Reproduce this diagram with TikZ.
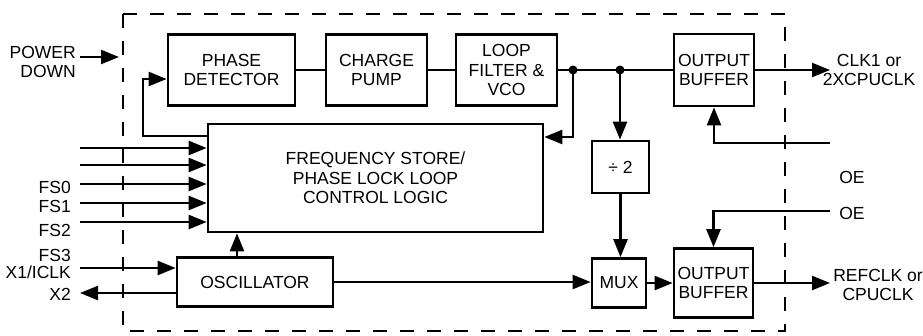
\documentclass[tikz,border=0pt]{standalone}
\usepackage{fontspec}
\setmainfont{Liberation Sans}
\usetikzlibrary{arrows.meta}
\tikzset{
    blockdiag/.style={
        x=1pt, y=-1pt,
        font=\fontsize{17.5}{19.5}\selectfont,
    },
    blk/.style={draw, line width=2.7pt, align=center, inner sep=1pt},
    sig/.style={line width=2.4pt, -{Triangle[length=18pt,width=14pt]}},
    wire/.style={line width=2.4pt},
    pinlabel/.style={anchor=east, inner sep=0pt},
}
\newcommand{\jdot}[1]{\fill (#1) circle (4.5pt);}

\begin{document}
\begin{tikzpicture}
        [blockdiag]
\useasboundingbox (0,0) rectangle (923,335);
\draw[line width=2.6pt, dash pattern=on 14pt off 13pt] (123,14) rectangle (785,331);
% blocks
\node[blk, minimum width=127pt, minimum height=71pt] (pd) at (231.5,70) {PHASE\\DETECTOR};
\node[blk, minimum width=101pt, minimum height=71pt] (cp) at (376.5,70) {CHARGE\\PUMP};
\node[blk, minimum width=101pt, minimum height=71pt] (lf) at (506.5,70) {LOOP\\FILTER \&\\VCO};
\node[blk, minimum width=80pt, minimum height=72pt] (ob1) at (714,70) {OUTPUT\\BUFFER};
\node[blk, minimum width=335pt, minimum height=108pt] (fs) at (375.5,178) {FREQUENCY STORE/\\PHASE LOCK LOOP\\CONTROL LOGIC};
\node[blk, minimum width=57pt, minimum height=52pt] (div) at (620.5,167) {÷ 2};
\node[blk, minimum width=54pt, minimum height=49pt] (mux) at (619,283) {MUX};
\node[blk, minimum width=79pt, minimum height=69pt] (ob2) at (713.5,283) {OUTPUT\\BUFFER};
\node[blk, minimum width=156pt, minimum height=49pt] (osc) at (255,282) {OSCILLATOR};
% pin labels
\node[pinlabel, align=right] (pwrlbl) at (76,62) {POWER\\DOWN};
\node[pinlabel] (fs0lbl) at (71,187) {FS0};
\node[pinlabel] (fs1lbl) at (71,206) {FS1};
\node[pinlabel] (fs2lbl) at (71,230) {FS2};
\node[pinlabel] (fs3lbl) at (71,255) {FS3};
\node[pinlabel] (x1lbl) at (71,272) {X1/ICLK};
\node[pinlabel] (x2lbl) at (71,294) {X2};
\node[align=center, inner sep=0pt] (clklbl) at (869,70) {CLK1 or\\2XCPUCLK};
\node[align=center, inner sep=0pt] (reflbl) at (878,285) {REFCLK or\\CPUCLK};
\node[inner sep=0pt] (oe1lbl) at (852,177) {OE};
\node[inner sep=0pt] (oe2lbl) at (852,213) {OE};
% free ends
\coordinate (pwr) at (80,57);
\coordinate (pwrend) at (119,57);
\coordinate (d1) at (573,70);
\coordinate (d2) at (620,70);
\coordinate (fb) at (573,137);
\coordinate (pdfb) at (143,136);
\coordinate (x1) at (80,268);
\coordinate (x2) at (80,293);
\coordinate (clk1) at (830,70);
\coordinate (refclk) at (830,283);
\coordinate (oe1) at (830,143);
\coordinate (oe2) at (830,211);
% connections
\draw[sig] (pwr) -- (pwrend);
\draw[wire] (pd) -- (cp);
\draw[wire] (cp) -- (lf);
\draw[wire] (lf) -- (ob1);
\jdot{d1}
\jdot{d2}
\draw[sig] (d1) -- (fb) -- (fb -| fs.east);
\draw[sig] (pdfb -| fs.west) -- (pdfb) |- ([yshift=-9pt]pd.west);
\foreach \y [count=\i] in {148,165,184,203,222} {
    \coordinate (in\i) at (80,\y);
    \draw[sig] (in\i) -- (in\i -| fs.west);
}
\draw[sig] ([xshift=-18pt]osc.north) -- ([xshift=-18pt]osc.north |- fs.south);
\draw[sig] (x1) -- (x1 -| osc.west);
\draw[sig] (x2 -| osc.west) -- (x2);
\draw[sig] (osc.east) -- (osc.east -| mux.west);
\draw[sig] (d2) -- (d2 |- div.north);
\draw[sig] (div.south) -- (div.south |- mux.north);
\draw[sig] (mux) -- (ob2);
\draw[sig] (ob1.east) -- (clk1);
\draw[sig] (ob2.east) -- (refclk);
\draw[sig] (oe1) -| (ob1.south);
\draw[sig] (oe2) -| (ob2.north);
\end{tikzpicture}
\end{document}
